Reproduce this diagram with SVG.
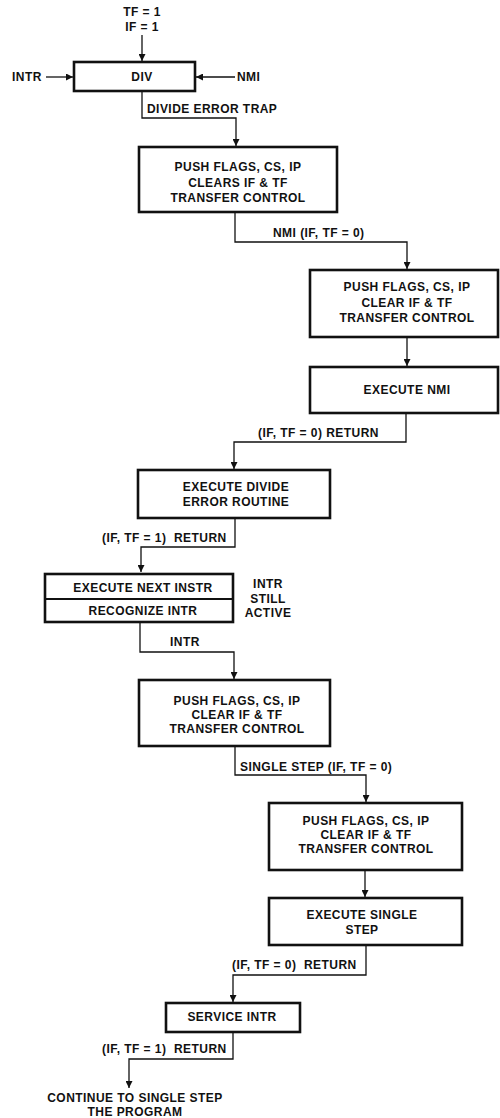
<svg xmlns="http://www.w3.org/2000/svg" width="500" height="1118" viewBox="0 0 500 1118">
<defs>
<style>
text{font-family:"Liberation Sans",Arial,sans-serif;font-weight:bold;font-size:12px;letter-spacing:0.45px;fill:#111}
.c{text-anchor:middle}
.box{fill:#fff;stroke:#111;stroke-width:2.6}
.ln{fill:none;stroke:#111;stroke-width:1.3}
</style>
<marker id="ah" viewBox="0 0 10 10" refX="10" refY="5" markerWidth="11" markerHeight="7" markerUnits="userSpaceOnUse" orient="auto">
<path d="M0,0 L10,5 L0,10 z" fill="#111"/>
</marker>
</defs>
<rect width="500" height="1118" fill="#fff"/>

<g id="connectors">
<path class="ln" d="M142,35 V61" marker-end="url(#ah)"/>
<path class="ln" d="M46,77 H73" marker-end="url(#ah)"/>
<path class="ln" d="M235,77 H196" marker-end="url(#ah)"/>
<path class="ln" d="M142,91 V118 H236 V146" marker-end="url(#ah)"/>
<path class="ln" d="M235,212 V242 H407 V269" marker-end="url(#ah)"/>
<path class="ln" d="M407,337 V366" marker-end="url(#ah)"/>
<path class="ln" d="M406,413 V442 H234 V469" marker-end="url(#ah)"/>
<path class="ln" d="M235,518 V547 H141 V572" marker-end="url(#ah)"/>
<path class="ln" d="M140,622 V652 H234 V679" marker-end="url(#ah)"/>
<path class="ln" d="M235,746 V775 H366 V802" marker-end="url(#ah)"/>
<path class="ln" d="M365,870 V897" marker-end="url(#ah)"/>
<path class="ln" d="M366,945 V975 H233 V1002" marker-end="url(#ah)"/>
<path class="ln" d="M233,1032 V1059 H129 V1088" marker-end="url(#ah)"/>
</g>

<g id="labels">
<text class="c" x="142" y="16">TF = 1</text>
<text class="c" x="142" y="31">IF = 1</text>
<text x="12" y="81">INTR</text>
<text x="237" y="81">NMI</text>
<text x="147" y="113">DIVIDE ERROR TRAP</text>
<text x="273" y="237">NMI (IF, TF = 0)</text>
<text x="258" y="437">(IF, TF = 0) RETURN</text>
<text x="102" y="542" xml:space="preserve">(IF, TF = 1)  RETURN</text>
<text class="c" x="268" y="588">INTR</text>
<text class="c" x="268" y="603">STILL</text>
<text class="c" x="268" y="617">ACTIVE</text>
<text x="170" y="646">INTR</text>
<text x="240" y="771">SINGLE STEP (IF, TF = 0)</text>
<text x="232" y="969" xml:space="preserve">(IF, TF = 0)  RETURN</text>
<text x="102" y="1053" xml:space="preserve">(IF, TF = 1)  RETURN</text>
<text class="c" x="135" y="1102">CONTINUE TO SINGLE STEP</text>
<text class="c" x="135" y="1116">THE PROGRAM</text>
</g>

<g id="div">
<rect class="box" x="74" y="62" width="121" height="29"/>
<text class="c" x="142" y="81">DIV</text>
</g>

<g id="push1">
<rect class="box" x="139" y="147" width="198" height="65"/>
<text class="c" x="238" y="171">PUSH FLAGS, CS, IP</text>
<text class="c" x="238" y="187">CLEARS IF &amp; TF</text>
<text class="c" x="238" y="202">TRANSFER CONTROL</text>
</g>

<g id="push2">
<rect class="box" x="310" y="270" width="188" height="67"/>
<text class="c" x="407" y="291">PUSH FLAGS, CS, IP</text>
<text class="c" x="407" y="307">CLEAR IF &amp; TF</text>
<text class="c" x="407" y="322">TRANSFER CONTROL</text>
</g>

<g id="exec-nmi">
<rect class="box" x="310" y="367" width="188" height="46"/>
<text class="c" x="407" y="394">EXECUTE NMI</text>
</g>

<g id="exec-divide">
<rect class="box" x="138" y="470" width="192" height="48"/>
<text class="c" x="236" y="491">EXECUTE DIVIDE</text>
<text class="c" x="236" y="506">ERROR ROUTINE</text>
</g>

<g id="next-instr">
<rect class="box" x="45" y="574" width="188" height="48"/>
<line x1="45" y1="599" x2="233" y2="599" stroke="#111" stroke-width="2"/>
<text class="c" x="143" y="592">EXECUTE NEXT INSTR</text>
<text class="c" x="143" y="615">RECOGNIZE INTR</text>
</g>

<g id="push3">
<rect class="box" x="139" y="680" width="191" height="66"/>
<text class="c" x="237" y="705">PUSH FLAGS, CS, IP</text>
<text class="c" x="237" y="719">CLEAR IF &amp; TF</text>
<text class="c" x="237" y="733">TRANSFER CONTROL</text>
</g>

<g id="push4">
<rect class="box" x="269" y="803" width="193" height="67"/>
<text class="c" x="366" y="825">PUSH FLAGS, CS, IP</text>
<text class="c" x="366" y="839">CLEAR IF &amp; TF</text>
<text class="c" x="366" y="853">TRANSFER CONTROL</text>
</g>

<g id="exec-single">
<rect class="box" x="269" y="898" width="193" height="47"/>
<text class="c" x="362" y="919">EXECUTE SINGLE</text>
<text class="c" x="362" y="934">STEP</text>
</g>

<g id="service-intr">
<rect class="box" x="166" y="1003" width="134" height="29"/>
<text class="c" x="232" y="1021">SERVICE INTR</text>
</g>
</svg>
